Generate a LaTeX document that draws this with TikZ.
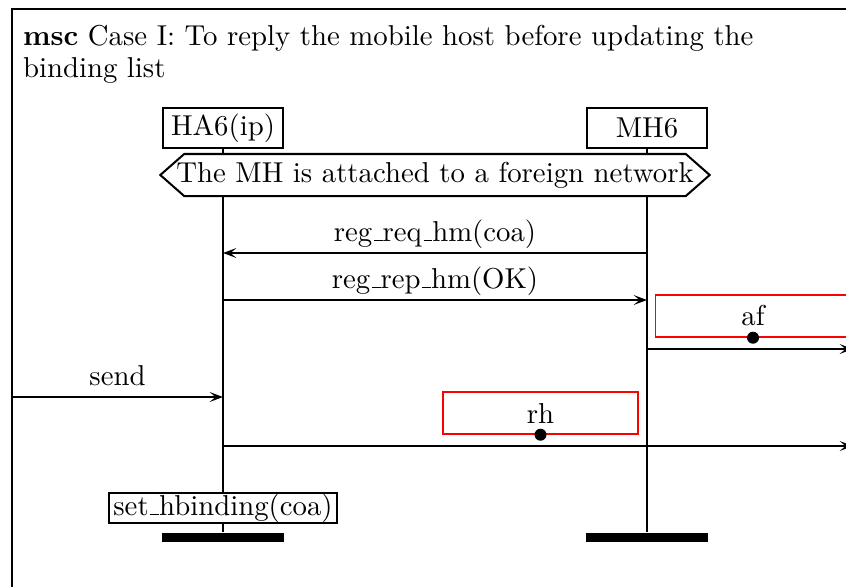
\documentclass[tikz,border=0pt]{standalone}
\usepackage{tikz}
\usetikzlibrary{arrows.meta}
% low rule as in the plain OT1 underscore
\newcommand{\usc}{\leavevmode\kern.06em\vbox{\hrule width.3em}}

\begin{document}
\begin{tikzpicture}[x=0.3475pt, y=-0.3475pt, line width=0.7pt,
  >={Stealth[length=4.6pt, width=3.4pt, inset=2pt]},
  inst/.style={draw, minimum width=42pt, minimum height=13.9pt, inner sep=0pt},
  instend/.style={fill=black, minimum width=42.4pt, minimum height=3.1pt, inner sep=0pt},
  lbl/.style={anchor=base, yshift=4.1pt, inner sep=0pt},
  redbox/.style={draw=red, line width=0.5pt, minimum width=67.8pt, minimum height=14.6pt, inner sep=0pt}]
  \useasboundingbox (0,0) rectangle (846,586);
  \clip (0,0) rectangle (846,586);
  % frame and title
  \draw (12,9) rectangle (853,640);
  \coordinate (envL) at (12,0);
  \coordinate (envR) at (853,0);
  \node[anchor=base west, inner sep=0pt] (title) at (22,45) {\textbf{msc} Case I: To reply the mobile host before updating the};
  \node[anchor=base west, inner sep=0pt] (title2) at (22,77) {binding list};
  % instances
  \node[inst] (ha) at (223,128.3) {HA6(ip)};
  \node[inst] (mh) at (647,128.3) {MH6};
  \node[inner sep=0pt, minimum height=13.9pt] (cond) at (435,175) {The MH is attached to a foreign network};
  \draw ([xshift=3.1pt]cond.north west) -- ([xshift=-3.1pt]cond.north east) -- ([xshift=5.2pt]cond.east)
    -- ([xshift=-3.1pt]cond.south east) -- ([xshift=3.1pt]cond.south west) -- ([xshift=-5.2pt]cond.west) -- cycle;
  \node[draw, inner xsep=1.5pt, inner ysep=0.2pt] (bind) at (223,508) {set\usc hbinding(coa)};
  \node[instend] (haend) at (223,537.5) {};
  \node[instend] (mhend) at (647,537.5) {};
  \draw (ha.south) -- (ha.south |- cond.north);
  \draw (mh.south) -- (mh.south |- cond.north);
  \draw (ha.south |- cond.south) -- (bind.north);
  \draw (bind.south) -- (haend.north);
  \draw (mh.south |- cond.south) -- (mhend.north);
  % messages
  \draw[->] (mh.south |- 0,253) -- node[lbl] {reg\usc req\usc hm(coa)} (ha.south |- 0,253);
  \draw[->] (ha.south |- 0,300) -- node[lbl] {reg\usc rep\usc hm(OK)} (mh.south |- 0,300);
  \node[redbox] (af) at (753,316) {af};
  \fill (af.south) circle (6);
  \draw[->] (mh.south |- 0,349) -- (envR |- 0,349);
  \draw[->] (envL |- 0,397) -- node[lbl] {send} (ha.south |- 0,397);
  \node[redbox] (rh) at (540.5,413) {rh};
  \fill (rh.south) circle (6);
  \draw[->] (ha.south |- 0,446) -- (envR |- 0,446);
\end{tikzpicture}
\end{document}
